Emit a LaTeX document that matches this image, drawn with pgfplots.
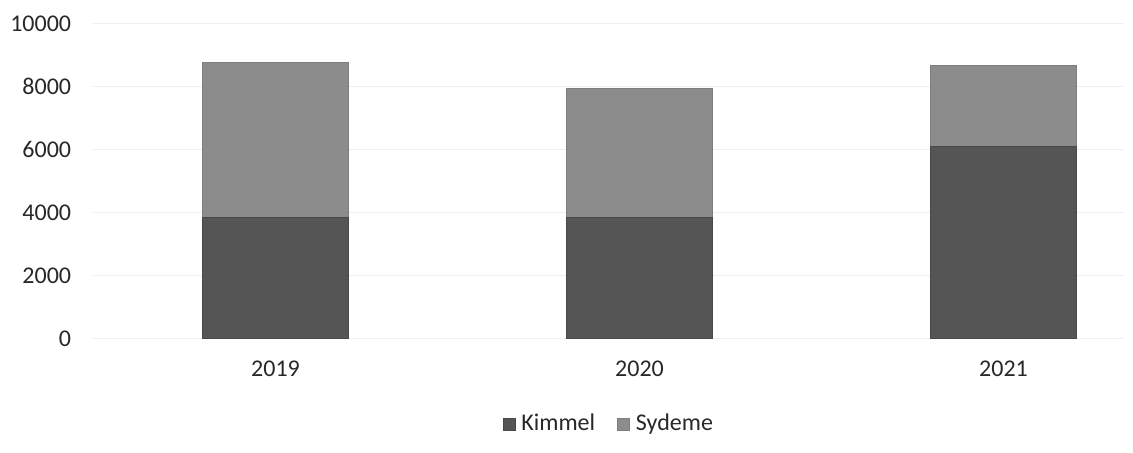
\documentclass[12pt,border=0pt]{standalone}
\usepackage{fontspec}
\setmainfont{Carlito}
\usepackage{pgfplots}
\pgfplotsset{compat=1.18}

\definecolor{kimmel}{RGB}{85,85,85}
\definecolor{sydeme}{RGB}{140,140,140}
\definecolor{txt}{RGB}{40,40,40}
\definecolor{gridc}{RGB}{238,238,238}

\begin{document}
\begin{tikzpicture}[x=1pt,y=1pt]
  \begin{axis}[
      ybar stacked,
      bar width=0.4,
      scale only axis,
      width=515.25pt, height=157.5pt,
      xmin=-0.5, xmax=2.331,
      ymin=0, ymax=10000,
      xtick={0,1,2},
      xticklabels={2019,2020,2021},
      ytick={0,2000,...,10000},
      scaled y ticks=false,
      axis line style={draw=none},
      tick style={draw=none},
      ymajorgrids,
      grid style={gridc, line width=0.8pt},
      /pgf/number format/assume math mode=true,
      /pgf/number format/1000 sep={},
      ticklabel style={font=\fontsize{12}{14}\selectfont, text=txt},
      yticklabel style={anchor=east, inner sep=0pt, xshift=-11pt},
      xticklabel style={anchor=north, inner sep=0pt, yshift=-11pt},
      legend columns=2,
      legend style={draw=none, at={(0.5,-0.272)}, anchor=center,
        font=\fontsize{12}{14}\selectfont, text=txt,
        nodes={inner sep=1pt},
        /tikz/every odd column/.append style={column sep=2pt},
        /tikz/column 2/.style={column sep=10pt}},
      legend image code/.code={\fill[#1] (0pt,-3pt) rectangle (6pt,3pt);},
  ]
    \addplot[fill=kimmel, draw=kimmel!85!black, line width=0.4pt]
      coordinates {(0,3840) (1,3830) (2,6080)};
    \addplot[fill=sydeme, draw=sydeme!90!black, line width=0.4pt]
      coordinates {(0,4920) (1,4090) (2,2570)};
    \legend{Kimmel, Sydeme}
    \coordinate (O) at (rel axis cs:0,0);
  \end{axis}
  \pgfresetboundingbox
  \path[use as bounding box] (O) ++(-46.75pt,-56.85pt) rectangle ++(566.5pt,226pt);
\end{tikzpicture}
\end{document}
